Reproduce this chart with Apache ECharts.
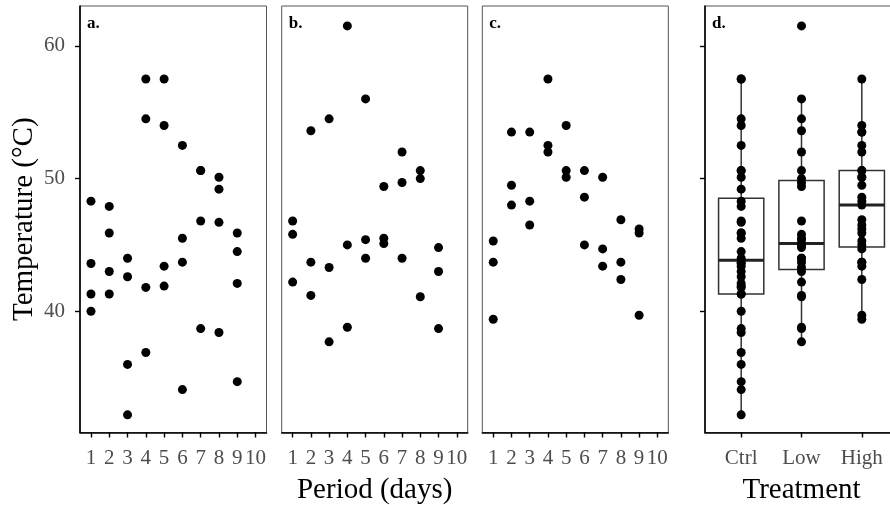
<!DOCTYPE html>
<html>
<head>
<meta charset="utf-8">
<script src="https://cdn.jsdelivr.net/npm/echarts@6/dist/echarts.min.js"></script>
<style>
  html, body { margin: 0; padding: 0; background: #fff; }
  #chart { width: 890px; height: 505px; }
</style>
</head>
<body>
<div id="chart"></div>
<script>
// Sampling periods (days) and the temperatures recorded in each treatment, one inner list per day
const days = [1, 2, 3, 4, 5, 6, 7, 8, 9];
const dayTicks = [1, 2, 3, 4, 5, 6, 7, 8, 9, 10];
const treatments = ['Ctrl', 'Low', 'High'];
const tempTicks = [40, 50, 60];
const panelLabels = ['a.', 'b.', 'c.', 'd.'];

const ctrlTemps = [
  [48.3, 43.6, 41.3, 40.0],
  [47.9, 45.9, 43.0, 41.3],
  [44.0, 42.6, 36.0, 32.2],
  [57.5, 54.5, 41.8, 36.9],
  [57.5, 54.0, 43.4, 41.9],
  [52.5, 45.5, 43.7, 34.1],
  [50.6, 50.6, 46.8, 38.7],
  [50.1, 49.2, 46.7, 38.4],
  [45.9, 44.5, 42.1, 34.7]
];
const lowTemps = [
  [46.8, 45.8, 42.2],
  [53.6, 43.7, 41.2],
  [54.5, 43.3, 37.7],
  [61.5, 45.0, 38.8],
  [56.0, 45.4, 44.0],
  [49.4, 45.5, 45.1],
  [52.0, 49.7, 44.0],
  [50.6, 50.0, 41.1],
  [44.8, 43.0, 38.7]
];
const highTemps = [
  [45.3, 43.7, 39.4],
  [53.5, 49.5, 48.0],
  [53.5, 48.3, 46.5],
  [57.5, 52.5, 52.0],
  [54.0, 50.6, 50.1],
  [50.6, 48.6, 45.0],
  [50.1, 44.7, 43.4],
  [46.9, 43.7, 42.4],
  [46.2, 45.9, 39.7]
];

const groups = [ctrlTemps, lowTemps, highTemps];

const SERIF = "'Liberation Serif', 'Times New Roman', serif";
const TICK_GREY = '#4d4d4d';
const Y_MIN = 30.87, Y_MAX = 63.0;

// [day, temp] pairs for the per-period scatter panels
function dayPoints(byDay) {
  const out = [];
  byDay.forEach((temps, i) => temps.forEach(t => out.push([days[i], t])));
  return out;
}

// Linear-interpolated quantile of a sorted array
function quantile(sorted, p) {
  const h = (sorted.length - 1) * p;
  const lo = Math.floor(h);
  const hiVal = lo + 1 < sorted.length ? sorted[lo + 1] : sorted[lo];
  return sorted[lo] + (h - lo) * (hiVal - sorted[lo]);
}

// Tukey box statistics: [x, lowerWhisker, q1, median, q3, upperWhisker]
function boxStats(values, x) {
  const s = values.slice().sort((a, b) => a - b);
  const q1 = quantile(s, 0.25), med = quantile(s, 0.5), q3 = quantile(s, 0.75);
  const iqr = q3 - q1;
  const lo = Math.min(...s.filter(v => v >= q1 - 1.5 * iqr));
  const hi = Math.max(...s.filter(v => v <= q3 + 1.5 * iqr));
  return [x, lo, q1, med, q3, hi];
}

const boxData = groups.map((g, i) => boxStats(g.flat(), i + 1));
const treatmentPoints = [];
groups.forEach((g, i) => g.flat().forEach(t => treatmentPoints.push([i + 1, t])));

// The treatment panel runs a little past the right edge of the canvas
const grid = [
  { left: 80, width: 186.5 },
  { left: 281.7, width: 186 },
  { left: 482.3, width: 186 },
  { left: 705, right: -8 }
].map(p => Object.assign({
  top: 6, height: 426.5, outerBoundsMode: 'none', containLabel: false,
  show: true, borderColor: '#555', borderWidth: 1, backgroundColor: 'transparent'
}, p));

const axisLineStyle = { show: true, onZero: false, lineStyle: { color: '#000', width: 1.6 } };
const tickStyle = { color: '#000', width: 1.4 };
const nameStyle = { fontFamily: SERIF, fontSize: 29, color: '#000' };

const xAxis = [0, 1, 2].map(i => ({
  type: 'value', gridIndex: i, min: 0.4, max: 10.6,
  axisLine: axisLineStyle,
  axisTick: { show: true, length: 5, customValues: dayTicks, lineStyle: tickStyle },
  axisLabel: {
    customValues: dayTicks, margin: 15, fontFamily: SERIF, fontSize: 21, color: TICK_GREY,
    formatter: v => String(v)
  },
  splitLine: { show: false },
  name: i === 1 ? 'Period (days)' : '',
  nameLocation: 'middle', nameGap: 43,
  nameTextStyle: nameStyle
}));
xAxis.push({
  type: 'value', gridIndex: 3, min: 0.4, max: 3.6,
  axisLine: axisLineStyle,
  axisTick: { show: true, length: 5, customValues: [1, 2, 3], lineStyle: tickStyle },
  axisLabel: {
    customValues: [1, 2, 3], margin: 15, fontFamily: SERIF, fontSize: 21, color: TICK_GREY,
    formatter: v => treatments[Math.round(v) - 1]
  },
  splitLine: { show: false },
  name: 'Treatment', nameLocation: 'middle', nameGap: 43,
  nameTextStyle: nameStyle
});

const yAxis = [0, 1, 2, 3].map(i => {
  const withAxis = i === 0 || i === 3;
  return {
    type: 'value', gridIndex: i, min: Y_MIN, max: Y_MAX,
    axisLine: withAxis ? axisLineStyle : { show: false },
    axisTick: { show: withAxis, length: 5, customValues: tempTicks, lineStyle: tickStyle },
    axisLabel: {
      show: i === 0, customValues: tempTicks, margin: 15,
      fontFamily: SERIF, fontSize: 21, color: TICK_GREY, formatter: v => String(v)
    },
    splitLine: { show: false },
    name: i === 0 ? 'Temperature (°C)' : '',
    nameLocation: 'middle', nameGap: 41,
    nameTextStyle: nameStyle
  };
});

const dotStyle = { color: '#000', opacity: 1 };
const scatterFor = (data, i) => ({
  type: 'scatter', xAxisIndex: i, yAxisIndex: i, data,
  symbol: 'circle', symbolSize: 9, itemStyle: dotStyle, z: 5, silent: true
});

const boxSeries = {
  type: 'custom', xAxisIndex: 3, yAxisIndex: 3, data: boxData, z: 2, silent: true,
  encode: { x: 0, y: [1, 2, 3, 4, 5] },
  renderItem(params, api) {
    const x = api.value(0), lo = api.value(1), q1 = api.value(2);
    const med = api.value(3), q3 = api.value(4), hi = api.value(5);
    const half = 0.375;
    const tl = api.coord([x - half, q3]), br = api.coord([x + half, q1]);
    const pLo = api.coord([x, lo]), pHi = api.coord([x, hi]);
    const pQ1 = api.coord([x, q1]), pQ3 = api.coord([x, q3]);
    const mL = api.coord([x - half, med]), mR = api.coord([x + half, med]);
    const line = { stroke: '#333', lineWidth: 1.5 };
    return {
      type: 'group',
      children: [
        { type: 'line', shape: { x1: pHi[0], y1: pHi[1], x2: pQ3[0], y2: pQ3[1] }, style: line },
        { type: 'line', shape: { x1: pLo[0], y1: pLo[1], x2: pQ1[0], y2: pQ1[1] }, style: line },
        { type: 'rect', shape: { x: tl[0], y: tl[1], width: br[0] - tl[0], height: br[1] - tl[1] },
          style: { stroke: '#333', lineWidth: 1.5, fill: '#fff' } },
        { type: 'line', shape: { x1: mL[0], y1: mL[1], x2: mR[0], y2: mR[1] },
          style: { stroke: '#222', lineWidth: 3 } }
      ]
    };
  }
};

const title = panelLabels.map((t, i) => ({
  text: t, left: grid[i].left + 2, top: 10,
  textStyle: { fontFamily: SERIF, fontWeight: 'bold', fontSize: 17, color: '#000' }
}));

const chart = echarts.init(document.getElementById('chart'), null, { renderer: 'canvas' });
chart.setOption({
  animation: false,
  backgroundColor: '#fff',
  title,
  grid,
  xAxis,
  yAxis,
  series: [
    scatterFor(dayPoints(ctrlTemps), 0),
    scatterFor(dayPoints(lowTemps), 1),
    scatterFor(dayPoints(highTemps), 2),
    boxSeries,
    scatterFor(treatmentPoints, 3)
  ]
});
</script>
</body>
</html>
